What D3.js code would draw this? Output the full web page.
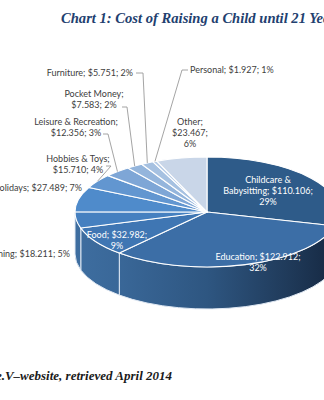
<!DOCTYPE html>
<html>
<head>
<meta charset="utf-8">
<script src="https://cdn.jsdelivr.net/npm/d3@7/dist/d3.min.js"></script>
<style>
  html, body { margin: 0; padding: 0; background: #fff; overflow: hidden; }
  svg { display: block; }
</style>
</head>
<body>
<svg id="chart" width="324" height="400"></svg>
<script>
// Cost categories, clockwise from 12 o'clock
const categories = [
  "Childcare & Babysitting", "Education", "Food", "Clothing", "Holidays",
  "Hobbies & Toys", "Leisure & Recreation", "Pocket Money", "Furniture",
  "Personal", "Other"
];
// Cost in dollars until age 21
const costs = [110106, 122912, 32982, 18211, 27489, 15710, 12356, 7583, 5751, 1927, 23467];
// Top-face fill per slice
const sliceColors = [
  "#2e5b89", "#3c6ea6", "#3f76b3", "#4580c0", "#4f8bcb",
  "#6296d0", "#7ea6d6", "#94b5dc", "#a6c1e1", "#b8cde7", "#c9d6e8"
];

const titleText = "Chart 1: Cost of Raising a Child until 21 Years";
const sourceText = "e.V\u2013website, retrieved April 2014";

// Label placement: words per line, anchor point, text colour and optional leader elbow
const labelLayout = [
  { lines: [2, 2, 1], x: 268, y: 183, anchor: "middle", fill: "#ffffff" },
  { lines: [2, 1],    x: 258, y: 260, anchor: "middle", fill: "#ffffff" },
  { lines: [2, 1],    x: 117, y: 238, anchor: "middle", fill: "#ffffff" },
  { lines: [3],       x: 70,  y: 257, anchor: "end",    fill: "#404040" },
  { lines: [3],       x: 82,  y: 191, anchor: "end",    fill: "#404040" },
  { lines: [3, 2],    x: 78,  y: 162, anchor: "middle", fill: "#404040", leader: [[106, 166], [111, 166]] },
  { lines: [3, 2],    x: 76,  y: 125, anchor: "middle", fill: "#404040", leader: [[103, 134], [108, 134]] },
  { lines: [2, 2],    x: 94,  y: 97,  anchor: "middle", fill: "#404040", leader: [[122, 107], [127, 107]] },
  { lines: [3],       x: 133, y: 76,  anchor: "end",    fill: "#404040", leader: [[136, 73], [143, 73]] },
  { lines: [3],       x: 190, y: 73,  anchor: "start",  fill: "#404040", leader: [[188, 70], [182, 70]] },
  { lines: [1, 1, 1], x: 190, y: 125, anchor: "middle", fill: "#404040" }
];

const W = 324, H = 400;
const cx = 207, cy = 212, rx = 132, ry = 55, depth = 42;
const lineH = 11.2;

const svg = d3.select("#chart");
const locale = d3.formatLocale({ decimal: ",", thousands: ".", grouping: [3], currency: ["$", ""] });
const money = locale.format("$,d");
const total = d3.sum(costs);

const data = categories.map((c, i) => ({ name: c, value: costs[i], color: sliceColors[i], layout: labelLayout[i] }));
const arcs = d3.pie().sort(null).value(d => d.value).startAngle(0).endAngle(2 * Math.PI)(data);

// Projected rim point of the tilted disc
const P = (a, dy = 0) => [cx + rx * Math.sin(a), cy - ry * Math.cos(a) + dy];

const defs = svg.append("defs");
const sideGrad = defs.append("linearGradient")
  .attr("id", "side").attr("gradientUnits", "userSpaceOnUse")
  .attr("x1", cx - rx).attr("x2", cx + rx).attr("y1", 0).attr("y2", 0);
[["0", "#3e6ea0"], ["0.15", "#3a6899"], ["0.5", "#2e5681"], ["0.8", "#203b5b"], ["1", "#152740"]]
  .forEach(([o, c]) => sideGrad.append("stop").attr("offset", o).attr("stop-color", c));

// Side walls on the front half of the disc
const sides = svg.append("g");
arcs.forEach(a => {
  const s = Math.max(a.startAngle, Math.PI / 2), e = Math.min(a.endAngle, 3 * Math.PI / 2);
  if (s >= e) return;
  const p0 = P(s), p1 = P(e), q1 = P(e, depth), q0 = P(s, depth);
  const large = e - s > Math.PI ? 1 : 0;
  sides.append("path")
    .attr("d", `M${p0}A${rx},${ry} 0 ${large} 1 ${p1}L${q1}A${rx},${ry} 0 ${large} 0 ${q0}Z`)
    .attr("fill", "url(#side)")
    .attr("stroke", "#dfe8f3").attr("stroke-width", 1).attr("stroke-linejoin", "round");
});

// Top faces
const tops = svg.append("g");
arcs.forEach(a => {
  const p0 = P(a.startAngle), p1 = P(a.endAngle);
  const large = a.endAngle - a.startAngle > Math.PI ? 1 : 0;
  tops.append("path")
    .attr("d", `M${cx},${cy}L${p0}A${rx},${ry} 0 ${large} 1 ${p1}Z`)
    .attr("fill", a.data.color)
    .attr("stroke", "#ffffff").attr("stroke-width", 1.1).attr("stroke-linejoin", "round");
});

// Leader lines
const leaders = svg.append("g").attr("fill", "none").attr("stroke", "#9a9a9a").attr("stroke-width", 0.9);
arcs.forEach(a => {
  const L = a.data.layout;
  if (!L.leader) return;
  const mid = (a.startAngle + a.endAngle) / 2;
  const pts = [...L.leader, P(mid)];
  leaders.append("path").attr("d", d3.line()(pts));
});

// Data labels
const labels = svg.append("g")
  .attr("font-family", "Lato, 'Open Sans', sans-serif").attr("font-size", 9);
arcs.forEach(a => {
  const L = a.data.layout;
  const pct = Math.round(a.data.value / total * 100);
  const words = `${a.data.name}; ${money(a.data.value)}; ${pct}%`.split(" ");
  const t = labels.append("text")
    .attr("text-anchor", L.anchor).attr("fill", L.fill);
  let k = 0;
  L.lines.forEach((n, i) => {
    t.append("tspan").attr("x", L.x).attr("y", L.y + i * lineH)
      .text(words.slice(k, k + n).join(" "));
    k += n;
  });
});

// Title
svg.append("text")
  .attr("x", 61).attr("y", 23)
  .attr("font-family", "'Liberation Serif', 'DejaVu Serif', serif")
  .attr("font-weight", "bold").attr("font-style", "italic")
  .attr("font-size", 14.6).attr("fill", "#22406f")
  .text(titleText);

// Source note
svg.append("text")
  .attr("x", 172).attr("y", 380).attr("text-anchor", "end")
  .attr("font-family", "'Liberation Serif', 'DejaVu Serif', serif")
  .attr("font-style", "italic").attr("font-weight", "bold")
  .attr("font-size", 13).attr("fill", "#1a1a1a")
  .text(sourceText);
</script>
</body>
</html>
